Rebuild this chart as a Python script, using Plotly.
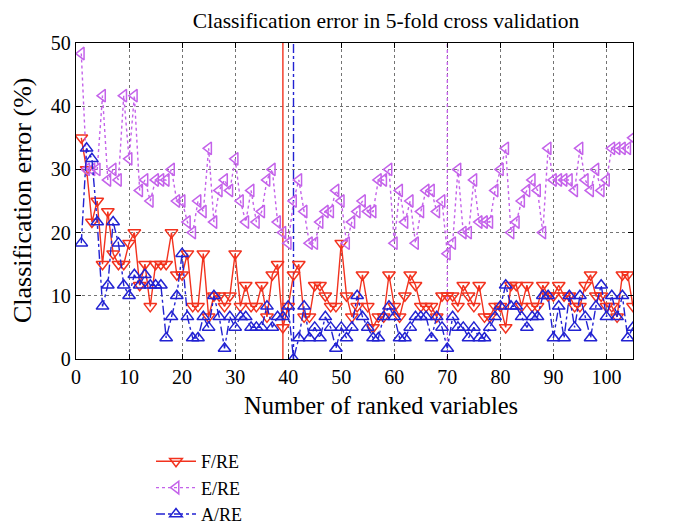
import plotly.graph_objects as go

n_vars = list(range(1, 106))

f_re = [35, 30, 21.67, 25, 15, 23.33, 16.67, 15, 15, 18.33,
        20, 11.67, 15, 8.33, 15, 15, 15, 20, 13.33, 13.33,
        16.67, 8.33, 8.33, 16.67, 6.67, 10, 10, 8.33, 10, 16.67,
        8.33, 11.67, 8.33, 8.33, 11.67, 6.67, 13.33, 15, 5, 8.33,
        13.33, 15, 6.67, 6.67, 11.67, 11.67, 10, 8.33, 8.33, 18.33,
        10, 6.67, 8.33, 13.33, 8.33, 5, 6.67, 6.67, 13.33, 8.33,
        6.67, 10, 13.33, 11.67, 8.33, 8.33, 8.33, 6.67, 10, 10,
        10, 8.33, 11.67, 10, 8.33, 11.67, 6.67, 6.67, 8.33, 8.33,
        5, 11.67, 11.67, 8.33, 11.67, 8.33, 8.33, 11.67, 10, 10,
        11.67, 10, 10, 8.33, 8.33, 11.67, 13.33, 10, 10, 8.33,
        8.33, 6.67, 13.33, 13.33, 8.33]

e_re = [48.33, 30, 30, 30, 41.67, 28.33, 30, 28.33, 41.67, 31.67,
        41.67, 26.67, 28.33, 25, 28.33, 28.33, 28.33, 30, 25, 25,
        21.67, 20, 25, 23.33, 33.33, 21.67, 26.67, 28.33, 26.67, 31.67,
        25, 21.67, 26.67, 21.67, 23.33, 28.33, 30, 21.67, 20, 18.33,
        25, 28.33, 23.33, 18.33, 18.33, 21.67, 23.33, 23.33, 26.67, 25,
        18.33, 21.67, 23.33, 25, 23.33, 23.33, 28.33, 28.33, 30, 18.33,
        26.67, 21.67, 25, 18.33, 23.33, 26.67, 26.67, 23.33, 25, 16.67,
        18.33, 30, 20, 20, 28.33, 21.67, 21.67, 21.67, 26.67, 30,
        33.33, 20, 21.67, 25, 26.67, 28.33, 26.67, 20, 33.33, 28.33,
        28.33, 28.33, 28.33, 26.67, 33.33, 28.33, 26.67, 30, 26.67, 28.33,
        33.33, 33.33, 33.33, 33.33, 35]

a_re = [18.33, 33.33, 31.67, 21.67, 8.33, 11.67, 21.67, 18.33, 11.67, 10,
        13.33, 11.67, 13.33, 11.67, 11.67, 11.67, 3.33, 6.67, 10, 16.67,
        6.67, 3.33, 3.33, 6.67, 5, 10, 6.67, 1.67, 6.67, 5,
        6.67, 6.67, 5, 5, 5, 8.33, 5, 6.67, 6.67, 8.33,
        0, 3.33, 8.33, 3.33, 5, 3.33, 6.67, 5, 1.67, 5,
        3.33, 5, 10, 6.67, 5, 3.33, 3.33, 6.67, 8.33, 6.67,
        3.33, 3.33, 5, 6.67, 6.67, 6.67, 3.33, 6.67, 5, 1.67,
        6.67, 5, 5, 3.33, 5, 3.33, 3.33, 5, 6.67, 8.33,
        11.67, 8.33, 8.33, 6.67, 5, 6.67, 6.67, 10, 10, 3.33,
        8.33, 3.33, 10, 5, 10, 6.67, 3.33, 8.33, 11.67, 6.67,
        10, 6.67, 10, 3.33, 5]

series_names = ["F/RE", "E/RE", "A/RE"]
best_vars = [39, 70, 41]  # optimum of F/RE, E/RE, A/RE
x_ticks = list(range(0, 101, 10))
y_ticks = list(range(0, 51, 10))

RED = "#F2321E"
MAG = "#C462EA"
BLUE = "#2222D2"
FONT = "Liberation Serif"

fig = go.Figure()

# vertical optimum lines
fig.add_trace(go.Scatter(x=[best_vars[0], best_vars[0]], y=[0, 50], mode="lines",
                         line=dict(color=RED, width=1.4), showlegend=False, hoverinfo="skip"))
fig.add_trace(go.Scatter(x=[best_vars[1], best_vars[1]], y=[0, 50], mode="lines",
                         line=dict(color=MAG, width=1.4, dash="dot"), showlegend=False, hoverinfo="skip"))
fig.add_trace(go.Scatter(x=[best_vars[2], best_vars[2]], y=[0, 50], mode="lines",
                         line=dict(color=BLUE, width=1.4, dash="dashdot"), showlegend=False, hoverinfo="skip"))

fig.add_trace(go.Scatter(x=n_vars, y=f_re, name=series_names[0], mode="lines+markers",
                         line=dict(color=RED, width=1.4),
                         marker=dict(symbol="triangle-down-open", size=11, color=RED,
                                     line=dict(width=1.5, color=RED))))
fig.add_trace(go.Scatter(x=n_vars, y=e_re, name=series_names[1], mode="lines+markers",
                         line=dict(color=MAG, width=1.4, dash="dot"),
                         marker=dict(symbol="triangle-left-open", size=11, color=MAG,
                                     line=dict(width=1.5, color=MAG))))
fig.add_trace(go.Scatter(x=n_vars, y=a_re, name=series_names[2], mode="lines+markers",
                         line=dict(color=BLUE, width=1.4, dash="dashdot"),
                         marker=dict(symbol="triangle-up-open", size=11, color=BLUE,
                                     line=dict(width=1.5, color=BLUE))))

axis_common = dict(showline=True, linecolor="black", linewidth=1.3, mirror="ticks",
                   ticks="inside", ticklen=5, tickcolor="black", showgrid=True,
                   gridcolor="rgba(0,0,0,0.55)", griddash="dot", gridwidth=1,
                   zeroline=False, automargin=False,
                   tickfont=dict(family=FONT, size=20, color="black"))

L, R, T, B = 68, 49, 35, 174
PW, PH = 674 - L - R, 525 - T - B

fig.update_layout(
    width=674, height=525,
    margin=dict(l=L, r=R, t=T, b=B),
    paper_bgcolor="white", plot_bgcolor="white",
    font=dict(family=FONT, size=20, color="black"),
    title=dict(text="Classification error in 5-fold cross validation",
               x=(378 - L) / PW, xref="paper", xanchor="center",
               y=1 - 12 / 525, yref="container", yanchor="middle",
               font=dict(family=FONT, size=21.5, color="black")),
    xaxis=dict(range=[0, 105], tickvals=x_ticks, **axis_common),
    yaxis=dict(range=[0, 50], tickvals=y_ticks, **axis_common),
    legend=dict(x=(143 - L) / PW, xref="paper", xanchor="left",
                y=0, yref="container", yanchor="bottom",
                bgcolor="rgba(0,0,0,0)", font=dict(family=FONT, size=18),
                itemwidth=40),
    showlegend=True,
    annotations=[
        dict(text="Number of ranked variables", xref="paper", yref="paper",
             x=(373 - L) / PW, y=-(398 - (525 - B)) / PH,
             xanchor="center", yanchor="middle", showarrow=False,
             font=dict(family=FONT, size=24.5, color="black")),
        dict(text="Classification error (%)", xref="paper", yref="paper",
             x=(14 - L) / PW, y=0.5, textangle=-90,
             xanchor="center", yanchor="middle", showarrow=False,
             font=dict(family=FONT, size=26, color="black")),
    ],
)

fig.write_html("out.html")
